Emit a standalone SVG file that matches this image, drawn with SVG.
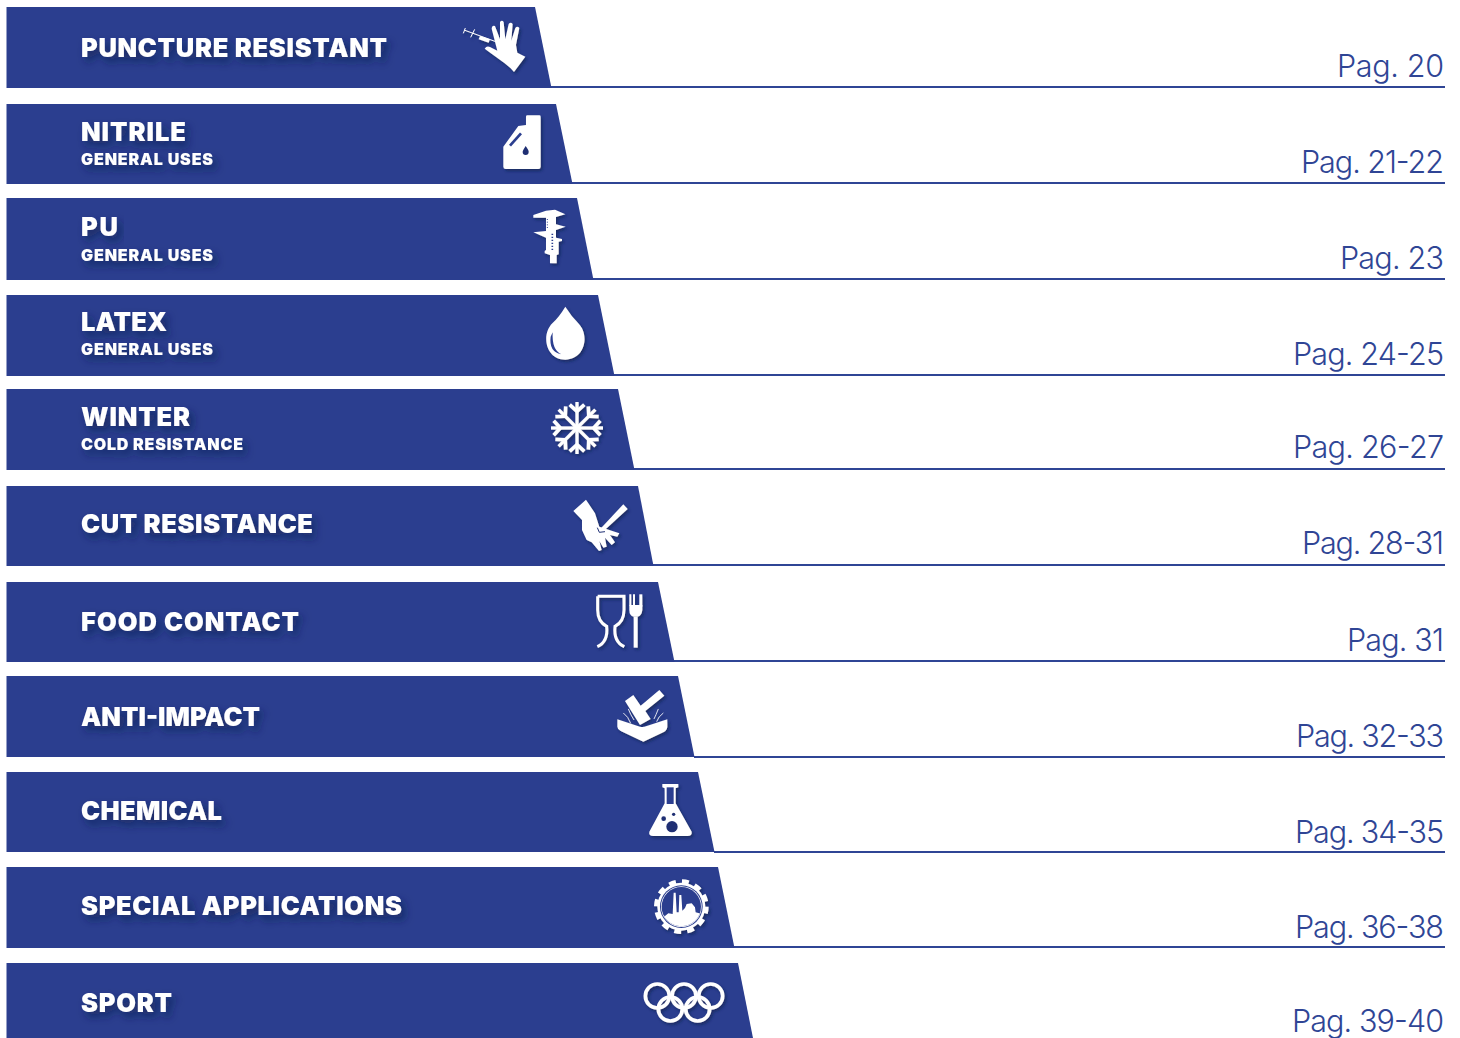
<svg xmlns="http://www.w3.org/2000/svg" width="1460" height="1038" viewBox="0 0 1460 1038">
<defs>
<style>
.band{fill:#2b3e8f}
.rule{stroke:#2f4595;stroke-width:2;fill:none}
.t{font-family:Inter,"Liberation Sans",sans-serif;font-weight:900;fill:#fff;font-size:25.5px;filter:url(#ts)}
.s{font-family:Inter,"Liberation Sans",sans-serif;font-weight:900;fill:#fff;font-size:16px;filter:url(#ts)}
.p{font-family:Inter,"Liberation Sans",sans-serif;font-weight:300;fill:#2f4595;font-size:30.5px}
.ic{fill:#fff;filter:url(#is)}
.dk{fill:#1f2f73}
.bl{fill:#2b3e8f}
.wl{fill:none;stroke:#fff}
</style>
<filter id="ts" x="-10%" y="-60%" width="125%" height="260%"><feDropShadow dx="4" dy="5" stdDeviation="4" flood-color="#16224f" flood-opacity=".75"/></filter>
<filter id="is" x="-30%" y="-30%" width="170%" height="170%"><feDropShadow dx="5" dy="6" stdDeviation="5" flood-color="#16224f" flood-opacity=".7"/></filter>
<clipPath id="gc"><circle cx="154" cy="410" r="59"/></clipPath>
<g id="arm"><path d="M0,0V-78" fill="none" stroke="#fff" stroke-width="10"/><path d="M0,-50L-22,-70M0,-50L22,-70" fill="none" stroke="#fff" stroke-width="11"/></g>
</defs>
<g id="connectors">
<path class="rule" d="M551,87H1445"/>
<path class="rule" d="M572,183H1445"/>
<path class="rule" d="M593,279H1445"/>
<path class="rule" d="M614,375H1445"/>
<path class="rule" d="M634,469H1445"/>
<path class="rule" d="M653,565H1445"/>
<path class="rule" d="M674,661H1445"/>
<path class="rule" d="M694,757H1445"/>
<path class="rule" d="M714,852H1445"/>
<path class="rule" d="M734,947H1445"/>
</g>
<g id="n1"><path class="band" d="M6.5,7H535L551.5,88H6.5Z"/>
<text class="t" x="81" y="57" textLength="306">PUNCTURE RESISTANT</text>
<g class="ic" transform="translate(440 0) scale(.3333)"><path d="M134,146Q140,136 150,141L172,152L155,86Q156,74 165,78L180,118L180,66Q186,58 191,66L196,118L206,72Q212,64 218,72L214,122L226,84Q232,76 238,84L228,135L232,158L256,170L222,216L212,205L194,190Z"/><path d="M120,108L150,118L146,128L116,118Z"/><path d="M72,90L170,126M76,84L70,100M104,88L92,112" fill="none" stroke="#fff" stroke-width="3"/></g>
<text class="p" x="1337" y="77" textLength="107">Pag. 20</text></g>
<g id="n2"><path class="band" d="M6.5,104H556L572.5,184H6.5Z"/>
<text class="t" x="81" y="141" textLength="105">NITRILE</text><text class="s" x="81" y="165" textLength="132">GENERAL USES</text>
<g class="ic" transform="translate(440 0) scale(.3333)"><path d="M190,440L235,378L258,375V350Q258,346 262,346H298Q302,346 302,350V500Q302,507 295,507H197Q190,507 190,500Z"/></g>
<g transform="translate(440 0) scale(.3333)"><path d="M210,437L243,400" stroke="#2b3e8f" stroke-width="8" fill="none"/><path class="dk" d="M257,438Q267,452 266,456A9,9 0 0 1 248,456Q248,452 257,438Z"/></g>
<text class="p" x="1301" y="173" textLength="143">Pag. 21-22</text></g>
<g id="n3"><path class="band" d="M6.5,198H577L593.5,280H6.5Z"/>
<text class="t" x="81" y="236" textLength="37">PU</text><text class="s" x="81" y="261" textLength="132">GENERAL USES</text>
<g class="ic" transform="translate(510 195) scale(.3333)"><path d="M70,60L108,47L135,44L166,58L138,66V88L167,95L138,105V128L156,132V138L146,140V178L140,180V205H120V180L104,175V168L108,165V128L70,112L108,108V68H70Z"/></g>
<g transform="translate(510 195) scale(.3333)"><path d="M127,116V168" stroke="#2b3e8f" stroke-width="5" stroke-dasharray="4 5" fill="none"/><path d="M112,72V100" stroke="#2b3e8f" stroke-width="3" stroke-dasharray="3 5" fill="none"/></g>
<text class="p" x="1340" y="269" textLength="104">Pag. 23</text></g>
<g id="n4"><path class="band" d="M6.5,295H598L614.5,376H6.5Z"/>
<text class="t" x="81" y="331" textLength="86">LATEX</text><text class="s" x="81" y="355" textLength="132">GENERAL USES</text>
<g class="ic" transform="translate(510 195) scale(.3333)"><path d="M166,335Q185,365 205,385C240,420 225,494 166,494C108,494 92,420 127,385Q148,365 166,335Z"/></g>
<g transform="translate(510 195) scale(.3333)"><path class="bl" d="M122,425Q116,470 154,478Q125,465 128,412Z"/></g>
<text class="p" x="1293" y="365" textLength="151">Pag. 24-25</text></g>
<g id="n5"><path class="band" d="M6.5,389H618L634.5,470H6.5Z"/>
<text class="t" x="81" y="426" textLength="109">WINTER</text><text class="s" x="81" y="450" textLength="162">COLD RESISTANCE</text>
<g class="ic" transform="translate(577 428) scale(.3333)"><use href="#arm"/><use href="#arm" transform="rotate(45)"/><use href="#arm" transform="rotate(90)"/><use href="#arm" transform="rotate(135)"/><use href="#arm" transform="rotate(180)"/><use href="#arm" transform="rotate(225)"/><use href="#arm" transform="rotate(270)"/><use href="#arm" transform="rotate(315)"/></g>
<text class="p" x="1293" y="458" textLength="151">Pag. 26-27</text></g>
<g id="n6"><path class="band" d="M6.5,486H638L653.5,566H6.5Z"/>
<text class="t" x="81" y="533" textLength="232">CUT RESISTANCE</text>
<g class="ic" transform="translate(560 485) scale(.3333)"><path d="M40,78L78,44L105,85L118,125L178,145L172,155L150,150L165,172L155,180L135,158L140,185L130,188L118,168L125,195L117,198L95,172L80,165L66,135L66,105Z"/><path d="M115,138L190,58L203,72L132,137Z"/></g>
<g transform="translate(560 485) scale(.3333)"><path d="M112,128L118,142L135,140" stroke="#1f2f73" stroke-width="3" fill="none"/></g>
<text class="p" x="1302" y="554" textLength="142">Pag. 28-31</text></g>
<g id="n7"><path class="band" d="M6.5,582H658L674.5,662H6.5Z"/>
<text class="t" x="81" y="631" textLength="218">FOOD CONTACT</text>
<g class="ic" transform="translate(560 485) scale(.3333)"><path class="wl" stroke-width="9" d="M113,334H192V375Q192,410 165,424Q160,470 193,485M113,334V375Q113,410 140,424Q145,470 112,485"/><path class="wl" stroke-width="12" d="M227,488V395"/><path class="wl" stroke-width="6" d="M211,328V362M222,328V362"/><path d="M208,360H247V375Q245,392 233,395H221Q208,392 208,375Z"/><path d="M238,328H247V365H238Z"/></g>
<text class="p" x="1347" y="651" textLength="97">Pag. 31</text></g>
<g id="n8"><path class="band" d="M6.5,676H678L694.5,757H6.5Z"/>
<text class="t" x="81" y="726" textLength="179">ANTI-IMPACT</text>
<g class="ic" transform="translate(560 485) scale(.3333)"><path d="M195,648L220,630L242,662L298,615L313,632L256,678L272,702L240,720Z"/><path d="M172,703L240,725Q250,727 258,724L322,703V725Q322,735 310,742L250,770L182,738Q172,732 172,725Z"/><path d="M190,684Q205,695 212,715M205,672Q212,690 222,705M310,684Q295,695 290,710M295,672Q288,690 282,702" fill="none" stroke="#fff" stroke-width="2.5"/></g>
<text class="p" x="1296" y="747" textLength="148">Pag. 32-33</text></g>
<g id="n9"><path class="band" d="M6.5,772H698L714.5,852H6.5Z"/>
<text class="t" x="81" y="820" textLength="141">CHEMICAL</text>
<g class="ic" transform="translate(630 770) scale(.3333)"><path d="M97,42H145V52L137,55V100L185,185Q187,198 172,198H70Q55,198 58,185L104,100V55L97,52Z"/></g>
<g transform="translate(630 770) scale(.3333)"><path class="bl" d="M110,52H131V102H110Z"/><circle class="dk" cx="126" cy="170" r="17"/><circle class="dk" cx="101" cy="146" r="7"/><circle class="dk" cx="131" cy="133" r="5"/></g>
<text class="p" x="1295" y="843" textLength="149">Pag. 34-35</text></g>
<g id="n10"><path class="band" d="M6.5,867H718L734.5,948H6.5Z"/>
<text class="t" x="81" y="915" textLength="321">SPECIAL APPLICATIONS</text>
<g transform="translate(630 770) scale(.3333)">
<g class="ic"><circle cx="154" cy="410" r="72"/><circle cx="154" cy="410" r="73" fill="none" stroke="#fff" stroke-width="18" stroke-dasharray="20 18.2"/></g>
<circle class="bl" cx="154" cy="410" r="64"/><circle cx="154" cy="410" r="61" fill="#fff"/><circle class="bl" cx="154" cy="410" r="59"/>
<path clip-path="url(#gc)" fill="#fff" d="M90,472V434L105,438L115,430L128,432L131,368H137L140,427H146L148,375H154L157,422L165,414L170,402L185,400L195,412L197,427L215,432V472Z"/></g>
<text class="p" x="1295" y="938" textLength="149">Pag. 36-38</text></g>
<g id="n11"><path class="band" d="M6.5,963H738L753,1038H6.5Z"/>
<text class="t" x="81" y="1012" textLength="91">SPORT</text>
<g class="ic" transform="translate(630 770) scale(.3333)"><g class="wl" stroke-width="11"><circle cx="82" cy="678" r="36"/><circle cx="162" cy="678" r="36"/><circle cx="242" cy="678" r="36"/><circle cx="121" cy="717" r="36"/><circle cx="203" cy="717" r="36"/></g></g>
<text class="p" x="1292" y="1032" textLength="152">Pag. 39-40</text></g>
</svg>
